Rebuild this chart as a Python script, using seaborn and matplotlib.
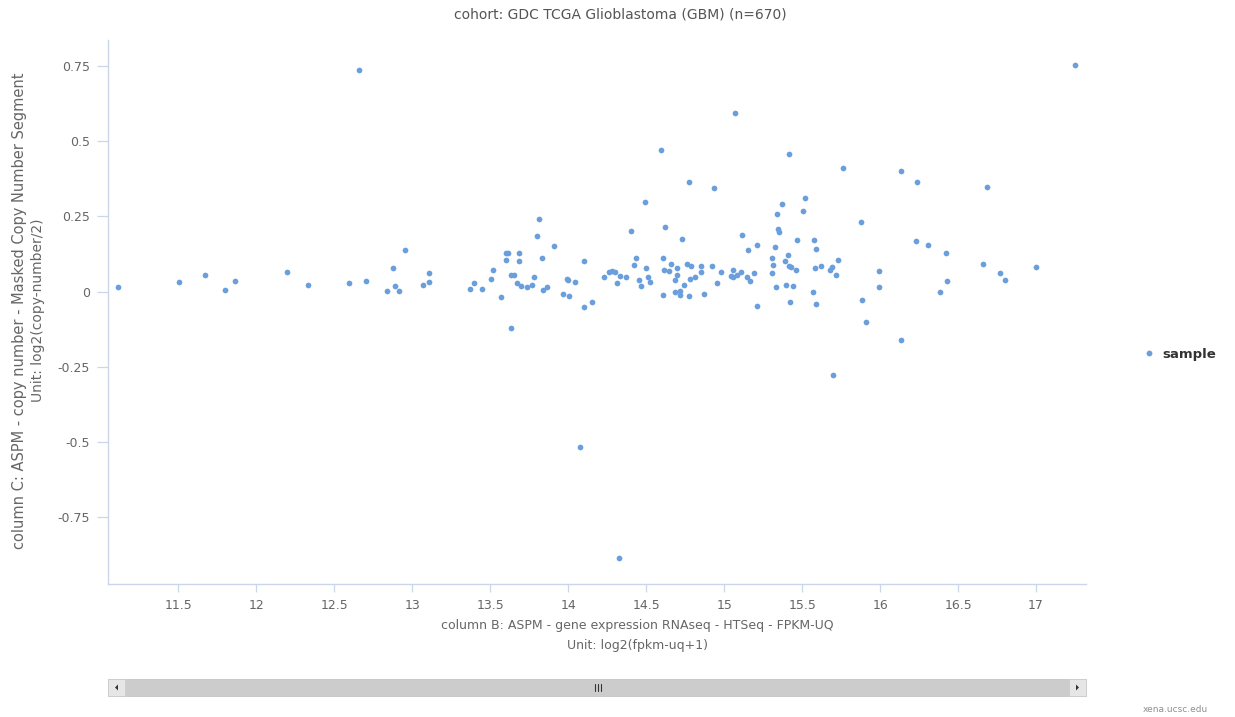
import matplotlib
matplotlib.use("Agg")
import matplotlib.pyplot as plt
import numpy as np
import pandas as pd
import seaborn as sns
from matplotlib.patches import Rectangle, Polygon
from matplotlib.lines import Line2D

# ---------------- data ----------------
x_expr = [
    11.117, 11.506, 11.675, 11.803, 11.865, 12.200, 12.335, 12.598, 12.662, 12.703,
    12.838, 12.878, 12.893, 12.917, 12.955, 13.068, 13.109, 13.109,
    13.372, 13.395, 13.449, 13.506, 13.521, 13.571, 13.603, 13.615, 13.603, 13.682,
    13.682, 13.633, 13.650, 13.673, 13.697, 13.737, 13.769, 13.780, 13.801, 13.810,
    13.833, 13.842, 13.865, 13.912, 13.635, 13.968, 13.991, 14.000, 14.008, 14.047,
    14.103, 14.103, 14.152, 14.229, 14.263, 14.280, 14.303, 14.312, 14.335, 14.374,
    14.406, 14.423, 14.432, 14.455, 14.470, 14.494, 14.502, 14.511, 14.526, 14.607,
    14.607, 14.613, 14.624, 14.645, 14.662, 14.686, 14.686, 14.701, 14.701, 14.716,
    14.718, 14.733, 14.742, 14.765, 14.774, 14.782, 14.788, 14.814, 14.853, 14.853,
    14.870, 14.925, 14.955, 14.981, 15.043, 15.060, 15.060, 15.083, 15.107, 15.115,
    15.147, 15.156, 15.165, 15.194, 15.212, 15.212,
    15.370, 15.338, 15.504, 15.880, 15.346, 15.353, 15.466, 15.577, 15.588, 15.329,
    15.410, 15.306, 15.393, 15.729, 15.314, 15.417, 15.428, 15.460, 15.585, 15.624,
    15.679, 15.690, 15.720, 15.306, 15.991, 16.231, 16.310, 16.421, 16.660, 16.771,
    16.803, 17.002, 16.429, 16.383, 15.991, 15.887, 15.910, 16.135, 15.332, 15.396,
    15.442, 15.571, 15.425, 15.588,
    14.773, 14.932, 16.236, 16.683, 15.520, 17.250, 15.072, 14.593, 15.414, 15.765,
    16.137,
    14.073, 14.327, 15.697,
]
y_copy = [
    0.014, 0.031, 0.056, 0.006, 0.036, 0.064, 0.023, 0.027, 0.736, 0.036,
    0.002, 0.077, 0.019, 0.002, 0.139, 0.023, 0.060, 0.031,
    0.010, 0.028, 0.010, 0.043, 0.072, -0.019, 0.127, 0.127, 0.106, 0.127,
    0.101, 0.056, 0.056, 0.028, 0.019, 0.014, 0.022, 0.048, 0.184, 0.242,
    0.113, 0.006, 0.014, 0.151, -0.122, -0.007, 0.043, 0.039, -0.016, 0.032,
    0.101, -0.052, -0.036, 0.048, 0.064, 0.069, 0.064, 0.027, 0.051, 0.048,
    0.201, 0.089, 0.113, 0.039, 0.019, 0.297, 0.077, 0.048, 0.031, 0.113,
    -0.011, 0.072, 0.213, 0.068, 0.093, 0.039, -0.002, 0.077, 0.056, 0.002,
    -0.011, 0.176, 0.022, 0.093, -0.016, 0.043, 0.086, 0.048, 0.084, 0.064,
    -0.007, 0.084, 0.027, 0.064, 0.051, 0.072, 0.047, 0.056, 0.064, 0.189,
    0.048, 0.139, 0.036, 0.060, 0.156, -0.048,
    0.292, 0.259, 0.267, 0.230, 0.209, 0.198, 0.172, 0.172, 0.143, 0.147,
    0.122, 0.113, 0.101, 0.106, 0.089, 0.084, 0.080, 0.072, 0.077, 0.084,
    0.072, 0.080, 0.056, 0.060, 0.069, 0.168, 0.156, 0.127, 0.093, 0.060,
    0.039, 0.080, 0.036, -0.002, 0.014, -0.027, -0.102, -0.160, 0.014, 0.022,
    0.019, -0.002, -0.036, -0.043,
    0.365, 0.343, 0.365, 0.348, 0.310, 0.752, 0.592, 0.470, 0.457, 0.410,
    0.400,
    -0.518, -0.884, -0.278,
]
x_ticks = [11.5, 12, 12.5, 13, 13.5, 14, 14.5, 15, 15.5, 16, 16.5, 17]
x_tick_labels = ["11.5", "12", "12.5", "13", "13.5", "14", "14.5", "15",
                 "15.5", "16", "16.5", "17"]
y_ticks = [-0.75, -0.5, -0.25, 0, 0.25, 0.5, 0.75]
y_tick_labels = ["-0.75", "-0.5", "-0.25", "0", "0.25", "0.5", "0.75"]
series_name = "sample"
title_text = "cohort: GDC TCGA Glioblastoma (GBM) (n=670)"
xlabel_1 = "column B: ASPM - gene expression RNAseq - HTSeq - FPKM-UQ"
xlabel_2 = "Unit: log2(fpkm-uq+1)"
ylabel_1 = "column C: ASPM - copy number - Masked Copy Number Segment"
ylabel_2 = "Unit: log2(copy-number/2)"
credit = "xena.ucsc.edu"

# ---------------- style ----------------
sns.set_theme(style="white")
plt.rcParams['font.family'] = ['DejaVu Sans']

W, H = 1235, 717
point_color = "#6a9fdc"
axis_color = "#ccd6eb"
label_color = "#666666"

fig = plt.figure(figsize=(W / 100, H / 100), dpi=100)
fig.patch.set_facecolor("white")

L, R, T, B = 108, 1086, 40, 584
ax = fig.add_axes([L / W, 1 - B / H, (R - L) / W, (B - T) / H])

df = pd.DataFrame({"expr": x_expr, "copy": y_copy, "series": series_name})
sns.scatterplot(data=df, x="expr", y="copy", ax=ax, color=point_color,
                s=17, linewidth=0, legend=False, zorder=3)

ax.set_xlim(11.05, 17.32)
ax.set_ylim(-0.972, 0.836)
ax.set_xticks(x_ticks)
ax.set_xticklabels(x_tick_labels)
ax.set_yticks(y_ticks)
ax.set_yticklabels(y_tick_labels)
ax.set_xlabel("")
ax.set_ylabel("")
ax.grid(False)

for side in ["top", "right"]:
    ax.spines[side].set_visible(False)
for side in ["left", "bottom"]:
    ax.spines[side].set_color(axis_color)
    ax.spines[side].set_linewidth(1.0)

ax.tick_params(axis="x", direction="out", length=6, width=0.9, color=axis_color,
               labelsize=9, labelcolor=label_color, pad=5, bottom=True)
ax.tick_params(axis="y", direction="out", length=8, width=0.9, color=axis_color,
               labelsize=9, labelcolor=label_color, pad=5, left=True)

# ---------------- texts ----------------
fig.text(620 / W, 1 - 15 / H, title_text, ha="center", va="center",
         fontsize=10, color="#555555")
fig.text(637 / W, 1 - 626 / H, xlabel_1, ha="center", va="center",
         fontsize=9, color=label_color)
fig.text(637 / W, 1 - 645 / H, xlabel_2, ha="center", va="center",
         fontsize=9, color=label_color)
fig.text(20 / W, 1 - 311 / H, ylabel_1, ha="center", va="center",
         rotation=90, fontsize=10.5, color=label_color)
fig.text(38 / W, 1 - 310 / H, ylabel_2, ha="center", va="center",
         rotation=90, fontsize=10, color=label_color)
fig.text(1175 / W, 1 - 709 / H, credit, ha="center", va="center",
         fontsize=6.5, color="#909090")

# ---------------- legend ----------------
handle = Line2D([], [], marker="o", linestyle="", color=point_color,
                markersize=4.2, markeredgewidth=0)
leg = fig.legend(handles=[handle], labels=[series_name], loc="center left",
                 bbox_to_anchor=(1136 / W, 1 - 354 / H), frameon=False,
                 handlelength=1.0, handletextpad=0.5, borderpad=0,
                 prop={"weight": "bold", "size": 9.5})
for t in leg.get_texts():
    t.set_color("#333333")

# ---------------- scrollbar ----------------
sb_top, sb_bot = 679, 696
fig.add_artist(Rectangle((L / W, 1 - sb_bot / H), (R - L) / W, (sb_bot - sb_top) / H,
                         transform=fig.transFigure, facecolor="#cccccc",
                         edgecolor="#c4c4c4", linewidth=0.6))
for x0 in (L, R - 17):
    fig.add_artist(Rectangle((x0 / W, 1 - sb_bot / H), 17 / W, (sb_bot - sb_top) / H,
                             transform=fig.transFigure, facecolor="#e6e6e6",
                             edgecolor="#cccccc", linewidth=0.6))
cy = (sb_top + sb_bot) / 2
fig.add_artist(Polygon([((L + 7) / W, 1 - cy / H), ((L + 10) / W, 1 - (cy - 3) / H),
                        ((L + 10) / W, 1 - (cy + 3) / H)], closed=True,
                       transform=fig.transFigure, facecolor="#333333", edgecolor="none"))
fig.add_artist(Polygon([((R - 7) / W, 1 - cy / H), ((R - 10) / W, 1 - (cy - 3) / H),
                        ((R - 10) / W, 1 - (cy + 3) / H)], closed=True,
                       transform=fig.transFigure, facecolor="#333333", edgecolor="none"))
for gx in (594.5, 597.5, 600.5):
    fig.add_artist(Line2D([gx / W, gx / W], [1 - (cy - 3.5) / H, 1 - (cy + 3.5) / H],
                          transform=fig.transFigure, color="#333333", linewidth=0.8))

fig.savefig("out.png", dpi=100, facecolor="white")
